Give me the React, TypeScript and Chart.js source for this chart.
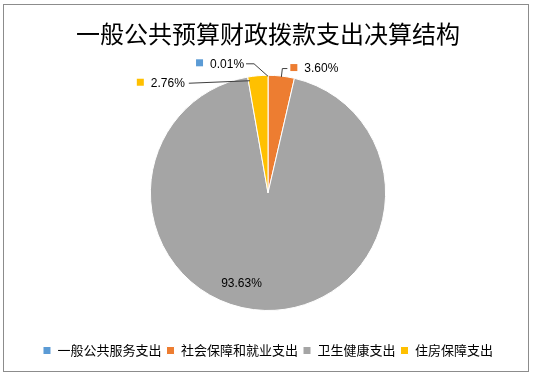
import React, { useEffect, useRef } from 'react';
import { Chart, registerables } from 'chart.js';

Chart.register(...registerables);

const chartTitle = '一般公共预算财政拨款支出决算结构';
const categories = ['一般公共服务支出', '社会保障和就业支出', '卫生健康支出', '住房保障支出'];
const values = [0.01, 3.6, 93.63, 2.76];
const valueLabels = ['0.01%', '3.60%', '93.63%', '2.76%'];
const colors = ['#5B9BD5', '#ED7D31', '#A5A5A5', '#FFC000'];

// label placement relative to the slice anchor (outer edge at mid-angle, or inner point for 'inside')
const placements: any[] = [
  { mode: 'elbowLeft', dx: -72, dy: -12, ex: -14 },
  { mode: 'elbowRight', dx: 9, dy: -8, ex: 1 },
  { mode: 'inside', r: 0.8, dx: -24, dy: -3 },
  { mode: 'straight', dx: -121, dy: 7 },
];

const FONT_CJK = '"Noto Sans CJK SC", "Noto Sans", sans-serif';
const FONT_NUM = '"Liberation Sans", Arial, sans-serif';

const framePlugin = {
  id: 'frame',
  beforeDraw(chart: any) {
    const ctx = chart.ctx;
    ctx.save();
    ctx.fillStyle = '#ffffff';
    ctx.fillRect(0, 0, chart.width, chart.height);
    ctx.strokeStyle = '#8c8c8c';
    ctx.lineWidth = 1;
    ctx.strokeRect(3.5, 4.5, 525, 367);
    ctx.restore();
  },
};

const labelPlugin = {
  id: 'pieLabels',
  afterDraw(chart: any) {
    const ctx = chart.ctx;
    const meta = chart.getDatasetMeta(0);
    ctx.save();
    ctx.font = '12px ' + FONT_NUM;
    ctx.textBaseline = 'middle';
    meta.data.forEach((arc: any, i: number) => {
      const p = placements[i];
      const { x, y, startAngle, endAngle, outerRadius } = arc.getProps(
        ['x', 'y', 'startAngle', 'endAngle', 'outerRadius'],
        true
      );
      const mid = (startAngle + endAngle) / 2;
      const text = valueLabels[i];
      const tw = ctx.measureText(text).width;
      if (p.mode === 'inside') {
        const ax = x + Math.cos(mid) * outerRadius * p.r;
        const ay = y + Math.sin(mid) * outerRadius * p.r;
        ctx.fillStyle = '#000000';
        ctx.textAlign = 'center';
        ctx.fillText(text, ax + p.dx, ay + p.dy);
        return;
      }
      const ax = x + Math.cos(mid) * outerRadius;
      const ay = y + Math.sin(mid) * outerRadius;
      const sx = ax + p.dx;
      const cy = ay + p.dy;
      // key square
      ctx.fillStyle = colors[i];
      ctx.fillRect(sx, cy - 4, 7, 7);
      ctx.fillStyle = '#000000';
      ctx.textAlign = 'left';
      const tx = sx + 14;
      ctx.fillText(text, tx, cy + 1);
      ctx.strokeStyle = '#404040';
      ctx.lineWidth = 1;
      ctx.beginPath();
      if (p.mode === 'elbowLeft') {
        const lx = tx + tw + 2;
        ctx.moveTo(lx, cy + 0.5);
        ctx.lineTo(ax + p.ex, cy + 0.5);
        ctx.lineTo(ax, ay + 1);
      } else if (p.mode === 'elbowRight') {
        ctx.moveTo(sx - 3, cy + 0.5);
        ctx.lineTo(ax + p.ex, cy + 0.5);
        ctx.lineTo(ax, ay + 1);
      } else {
        const lx = tx + tw + 4;
        ctx.moveTo(lx, cy + 0.5);
        ctx.lineTo(ax - 8, ay + 5);
      }
      ctx.stroke();
    });
    ctx.restore();
  },
};

export default function App() {
  const ref = useRef<HTMLCanvasElement>(null);
  useEffect(() => {
    if (!ref.current) return;
    const chart = new Chart(ref.current, {
      type: 'pie',
      data: {
        labels: categories,
        datasets: [
          {
            data: values,
            backgroundColor: colors,
            borderColor: '#ffffff',
            borderWidth: 1,
          },
        ],
      },
      options: {
        animation: false,
        responsive: false,
        maintainAspectRatio: false,
        layout: { padding: { left: 1, right: 0, top: 0, bottom: 12 } },
        plugins: {
          title: {
            display: true,
            text: chartTitle,
            color: '#000000',
            font: { family: FONT_CJK, size: 24, weight: 'normal' },
            padding: { top: 19, bottom: 27 },
          },
          legend: {
            display: true,
            position: 'bottom',
            title: {
              display: true,
              text: ' ',
              font: { size: 10 },
              padding: { top: 0, bottom: 16 },
            },
            labels: {
              boxWidth: 8,
              boxHeight: 8,
              padding: 5,
              color: '#000000',
              font: { family: FONT_CJK, size: 13 },
            },
          },
          tooltip: { enabled: false },
        },
      },
      plugins: [framePlugin, labelPlugin],
    });
    return () => chart.destroy();
  }, []);
  return (
    <div style={{ position: 'absolute', left: 0, top: 0, width: 535, height: 379 }}>
      <canvas ref={ref} width={535} height={379} style={{ display: 'block' }} />
    </div>
  );
}
